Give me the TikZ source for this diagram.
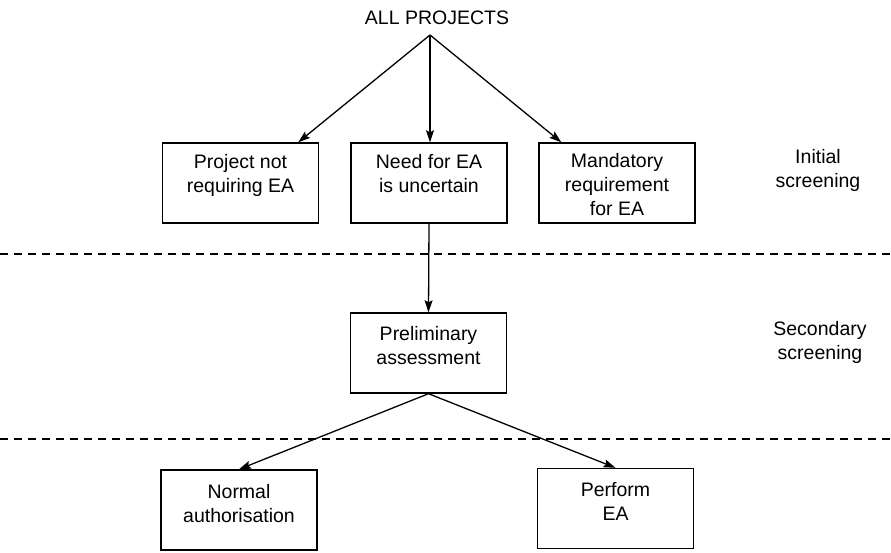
\documentclass[tikz,border=0pt]{standalone}
\usepackage{fontspec}
\setmainfont{Liberation Sans}
\usetikzlibrary{arrows.meta,calc}
\newcommand\bxt[2][25pt]{\parbox[c][80pt][t]{150pt}{\centering\rule{0pt}{#1}#2}}
\tikzset{
  stagebox/.style={draw, line width=1.4pt, minimum width=156pt, minimum height=80pt, inner sep=0pt},
  flow/.style={line width=1.3pt, -{Stealth[length=12pt,width=8pt,inset=2pt]}},
  divider/.style={line width=1.4pt, dash pattern=on 8pt off 6pt},
  sidelabel/.style={align=center, inner sep=0pt},
}
\begin{document}
\begin{tikzpicture}[x=1pt,y=-1pt,font=\fontsize{19.5}{24}\selectfont]
\useasboundingbox (0,0) rectangle (891,552);
\node[inner sep=0pt] (top) at (437,18) {ALL PROJECTS};
\coordinate (src) at (430,35);

\node[stagebox] (b1) at (240.5,183) {\bxt{Project not\\requiring EA}};
\node[stagebox] (b2) at (429,183) {\bxt{Need for EA\\is uncertain}};
\node[stagebox] (b3) at (617,183) {\bxt[24pt]{Mandatory\\requirement\\for EA}};
\node[stagebox] (pr) at (428.5,353) {\bxt[27pt]{Preliminary\\assessment}};
\node[stagebox] (nb) at (239,510) {\bxt[28pt]{Normal\\authorisation}};
\node[stagebox] (pe) at (615.5,508.5) {\bxt[28pt]{Perform\\EA}};

\node[sidelabel] (s1) at (818,170) {Initial\\screening};
\node[sidelabel] (s2) at (820,342) {Secondary\\screening};

\draw[divider] (0,254) -- (891,254);
\draw[divider] (0,439) -- (891,439);

\draw[flow] (src) -- ($(b1.north east)+(-21,0)$);
\draw[flow] (src) -- (src |- b2.north);
\draw[flow] (src) -- ($(b3.north west)+(23,0)$);
\draw[flow] (b2.south) -- (pr.north);
\draw[flow] (pr.south) -- (nb.north);
\draw[flow] (pr.south) -- (pe.north);
\end{tikzpicture}
\end{document}
